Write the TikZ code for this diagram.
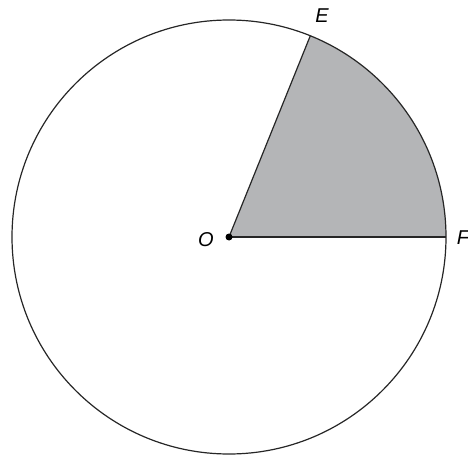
\documentclass[tikz,border=0pt]{standalone}
\usepackage{fontspec}
\setmainfont{Liberation Sans}
\usetikzlibrary{calc}
\definecolor{sector}{RGB}{180,181,183}
\begin{document}
\begin{tikzpicture}[x=1pt,y=-1pt,
  lbl/.style={font=\fontsize{20}{24}\selectfont\itshape, inner sep=0pt},
  edge/.style={line width=1.2pt, draw=black!85}]
\useasboundingbox (0,0) rectangle (468,457);
\coordinate (O) at (229,237);
\coordinate (E) at ($(O)+(-68:217)$);
\coordinate (F) at ($(O)+(217,0)$);
\fill[sector] (O) -- (F) arc[start angle=0, end angle=-68, radius=217] -- cycle;
\draw[edge] (O) circle[radius=217];
\draw[edge] (O) -- (E);
\draw[edge] (O) -- (F);
\fill (O) circle[radius=3.5];
\node[lbl] (lO) at (206,240) {O};
\node[lbl] (lE) at (322,16) {E};
\node[lbl] (lF) at (463,238) {F};
\end{tikzpicture}
\end{document}
